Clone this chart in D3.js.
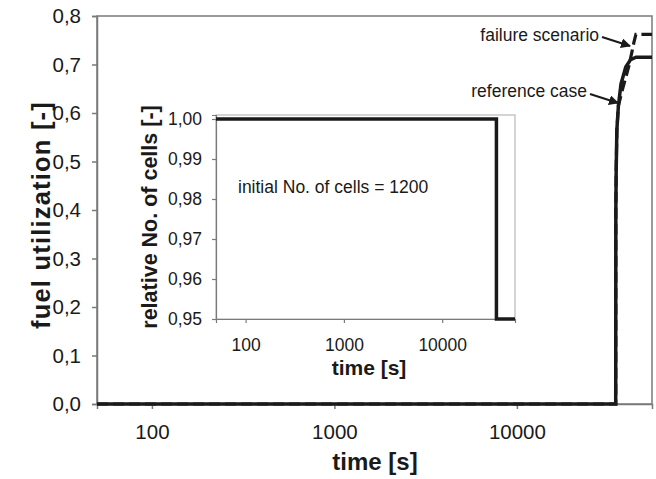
<!DOCTYPE html>
<html>
<head>
<meta charset="utf-8">
<script src="https://cdnjs.cloudflare.com/ajax/libs/d3/7.8.5/d3.min.js"></script>
<style>
    body { margin: 0; background: #fff; }
    svg text { font-family: "Liberation Sans", Arial, sans-serif; fill: #1a1a1a; }
    .tickLabel { font-size: 20.5px; }
    .insetTick { font-size: 17.5px; }
    .axisTitle { font-weight: bold; }
    .note { font-size: 17.5px; }
</style>
</head>
<body>
<div id="chart"></div>
<script>
// main chart: fuel utilization over time
var refTime = [50, 34800, 34850, 35000, 35300, 36000, 37200, 39500, 42000, 45000, 55000];
var refUtil = [0, 0, 0.40, 0.48, 0.565, 0.615, 0.66, 0.695, 0.71, 0.715, 0.715];

var failTime = [50, 34800, 34850, 35000, 35300, 36000, 38100, 39550, 41100, 42700, 43800, 44900, 55000];
var failUtil = [0, 0, 0.40, 0.48, 0.565, 0.615, 0.652, 0.674, 0.697, 0.726, 0.746, 0.762, 0.762];

// inset: relative number of cells
var cellTime = [50, 35600, 55000];
var cellValue = [1.0, 0.95, 0.95];

var xTicks = [100, 1000, 10000];
var yTicks = [0, 0.1, 0.2, 0.3, 0.4, 0.5, 0.6, 0.7, 0.8];
var insetYTicks = [0.95, 0.96, 0.97, 0.98, 0.99, 1.0];

var comma = function(digits) {
    return function(v) { return v.toFixed(digits).replace(".", ","); };
};

var svg = d3.select("#chart").append("svg")
    .attr("width", 656)
    .attr("height", 479);

var axisGrey = "#7a7a7a";

// ---------- main plot ----------
var x = d3.scaleLog().domain([50, 55000]).range([97, 652]);
var y = d3.scaleLinear().domain([0, 0.8]).range([404, 16]);

svg.append("rect")
    .attr("x", x.range()[0]).attr("y", y.range()[1])
    .attr("width", x.range()[1] - x.range()[0])
    .attr("height", y.range()[0] - y.range()[1])
    .attr("fill", "none")
    .attr("stroke", axisGrey)
    .attr("stroke-width", 1.5);

var yAxis = svg.append("g")
    .attr("transform", "translate(" + x.range()[0] + ",0)")
    .call(d3.axisLeft(y).tickValues(yTicks).tickFormat(comma(1)).tickSize(5).tickPadding(11));
var xAxis = svg.append("g")
    .attr("transform", "translate(0," + y.range()[0] + ")")
    .call(d3.axisBottom(x).tickValues(xTicks).tickFormat(d3.format("d")).tickSize(5).tickPadding(15));

[xAxis, yAxis].forEach(function(ax) {
    ax.attr("font-size", null).attr("font-family", null);
    ax.select(".domain").attr("stroke", axisGrey).attr("stroke-width", 1.5);
    ax.selectAll(".tick line").attr("stroke", axisGrey).attr("stroke-width", 1.5);
    ax.selectAll(".tick text").attr("class", "tickLabel");
});

svg.append("text")
    .attr("class", "axisTitle")
    .attr("x", 375).attr("y", 470)
    .attr("text-anchor", "middle")
    .style("font-size", "24px")
    .text("time [s]");

svg.append("text")
    .attr("class", "axisTitle")
    .attr("transform", "translate(50,215) rotate(-90)")
    .attr("text-anchor", "middle")
    .style("font-size", "25.5px")
    .style("letter-spacing", "1.2px")
    .text("fuel utilization [-]");

var line = d3.line()
    .x(function(d) { return x(d[0]); })
    .y(function(d) { return y(d[1]); });

svg.append("path")
    .datum(d3.zip(failTime, failUtil))
    .attr("d", line)
    .attr("fill", "none")
    .attr("stroke", "#1a1a1a")
    .attr("stroke-width", 3.2)
    .attr("stroke-dasharray", "11,5");

svg.append("path")
    .datum(d3.zip(refTime, refUtil))
    .attr("d", line)
    .attr("fill", "none")
    .attr("stroke", "#1a1a1a")
    .attr("stroke-width", 3.5);

// ---------- inset ----------
var ix = d3.scaleLog().domain([50, 55000]).range([216, 515]);
var iy = d3.scaleLinear().domain([0.95, 1.001]).range([319, 115]);

svg.append("rect")
    .attr("x", ix.range()[0]).attr("y", iy.range()[1])
    .attr("width", ix.range()[1] - ix.range()[0])
    .attr("height", iy.range()[0] - iy.range()[1])
    .attr("fill", "#fff")
    .attr("stroke", "#b8b8b8")
    .attr("stroke-width", 1.2);

var iyAxis = svg.append("g")
    .attr("transform", "translate(" + ix.range()[0] + ",0)")
    .call(d3.axisLeft(iy).tickValues(insetYTicks).tickFormat(comma(2)).tickSize(4).tickPadding(10));
var ixAxis = svg.append("g")
    .attr("transform", "translate(0," + iy.range()[0] + ")")
    .call(d3.axisBottom(ix).tickValues(xTicks).tickFormat(d3.format("d")).tickSize(4).tickPadding(16));

[ixAxis, iyAxis].forEach(function(ax) {
    ax.attr("font-size", null).attr("font-family", null);
    ax.select(".domain").attr("stroke", axisGrey).attr("stroke-width", 1.2);
    ax.selectAll(".tick line").attr("stroke", axisGrey).attr("stroke-width", 1.2);
    ax.selectAll(".tick text").attr("class", "insetTick");
});

svg.append("path")
    .datum(d3.zip(cellTime, cellValue))
    .attr("d", d3.line()
        .x(function(d) { return ix(d[0]); })
        .y(function(d) { return iy(d[1]); })
        .curve(d3.curveStepAfter))
    .attr("fill", "none")
    .attr("stroke", "#1a1a1a")
    .attr("stroke-width", 3.5);

svg.append("text")
    .attr("class", "note")
    .attr("x", 238).attr("y", 193)
    .text("initial No. of cells = 1200");

svg.append("text")
    .attr("class", "axisTitle")
    .attr("x", 369).attr("y", 375)
    .attr("text-anchor", "middle")
    .style("font-size", "21px")
    .text("time [s]");

svg.append("text")
    .attr("class", "axisTitle")
    .attr("transform", "translate(157,217) rotate(-90)")
    .attr("text-anchor", "middle")
    .style("font-size", "21.5px")
    .text("relative No. of cells [-]");

// ---------- annotations ----------
svg.append("defs").append("marker")
    .attr("id", "arrow")
    .attr("viewBox", "0 0 10 10")
    .attr("refX", 9).attr("refY", 5)
    .attr("markerWidth", 5).attr("markerHeight", 5)
    .attr("orient", "auto")
    .append("path")
    .attr("d", "M0,0 L10,5 L0,10 z")
    .attr("fill", "#1a1a1a");

var notes = [
    {text: "failure scenario", tx: 599, ty: 41, x1: 602, y1: 37, x2: 630, y2: 46},
    {text: "reference case", tx: 587, ty: 97, x1: 590, y1: 94, x2: 618, y2: 103}
];

notes.forEach(function(n) {
    svg.append("text")
        .attr("class", "note")
        .attr("x", n.tx).attr("y", n.ty)
        .attr("text-anchor", "end")
        .text(n.text);
    svg.append("line")
        .attr("x1", n.x1).attr("y1", n.y1)
        .attr("x2", n.x2).attr("y2", n.y2)
        .attr("stroke", "#1a1a1a")
        .attr("stroke-width", 2)
        .attr("marker-end", "url(#arrow)");
});
</script>
</body>
</html>
